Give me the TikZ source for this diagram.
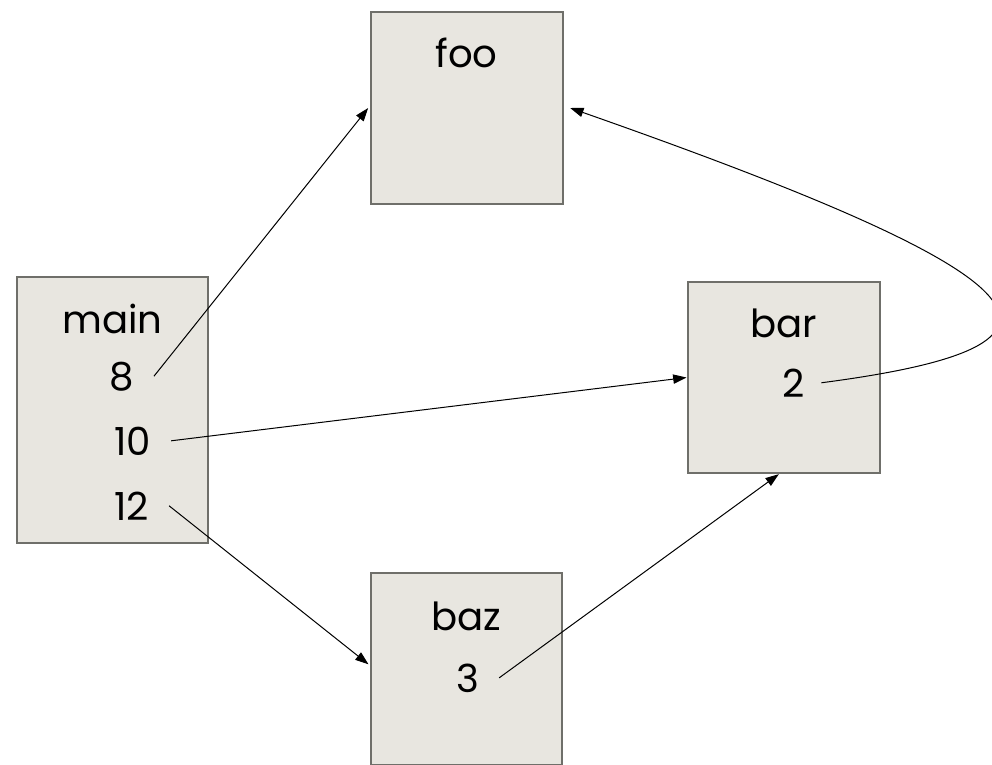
\documentclass[tikz,border=0pt]{standalone}
\usepackage{fontspec}
\setmainfont{Poppins}
\usetikzlibrary{arrows.meta}

\definecolor{framefill}{HTML}{E8E6E0}
\definecolor{frameline}{HTML}{6F6F6A}

\tikzset{
  frame/.style={draw=frameline, fill=framefill, line width=1.5pt, inner sep=0pt},
  fname/.style={font=\fontsize{29}{29}\selectfont, anchor=base, inner sep=0pt},
  num/.style={font=\fontsize{29}{29}\selectfont, anchor=base, inner xsep=15pt, inner ysep=0pt},
  call/.style={-{Triangle[length=10pt,width=7pt]}, line width=0.75pt}
}

\begin{document}
\begin{tikzpicture}[x=0.75pt,y=-0.75pt]
    \fill[white] (0,0) rectangle (992,764);
    \useasboundingbox (0,0) rectangle (992,764);

    % frames
    \node[frame, minimum width=144pt, minimum height=143.5pt] (foo) at (466.5,108) {};
    \node[frame, minimum width=143.5pt, minimum height=199.5pt] (main) at (112.5,410) {};
    \node[frame, minimum width=144pt, minimum height=143.5pt] (bar) at (783.5,377.5) {};
    \node[frame, minimum width=143.5pt, minimum height=144pt] (baz) at (466.5,669) {};

    % names and call sites
    \node[fname] (mainname) at (112.5,333) {main};
    \node[num] (m8) at (121.5,390) {8};
    \node[num] (m10) at (132.5,455) {10};
    \node[num] (m12) at (131.5,520) {12};

    \node[fname] (fooname) at (466.5,67) {foo};

    \node[fname] (barname) at (784,337) {bar};
    \node[num, inner xsep=12pt] (b2) at (794,397) {2};

    \node[fname] (bazname) at (466.5,630) {baz};
    \node[num] (z3) at (467.5,692) {3};

    % calls
    \draw[call] (m8.east) -- ([xshift=-1pt]foo.west);
    \draw[call] (m10.east) -- (bar.west);
    \draw[call] (m12.east) -- ([shift={(-1pt,3.5pt)}]baz.west);
    \draw[call] (z3.east) -- ([xshift=-3.5pt]bar.south);
    \draw[call] (b2.east) .. controls (1110,345) and (1060,280) .. ([xshift=5pt]foo.east);
\end{tikzpicture}
\end{document}
